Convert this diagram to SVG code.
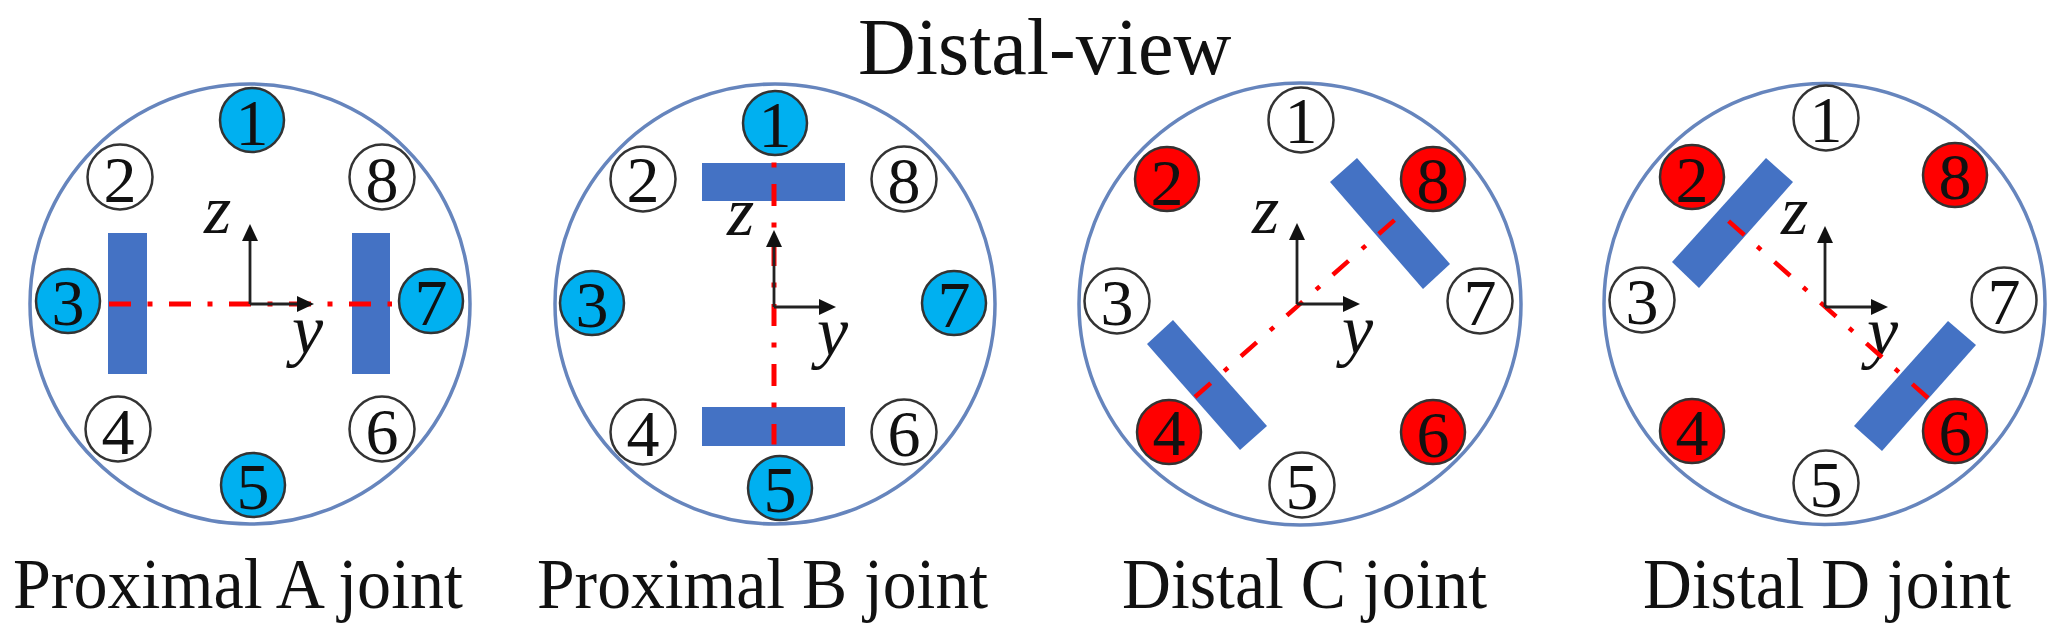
<svg xmlns="http://www.w3.org/2000/svg" width="2068" height="641" viewBox="0 0 2068 641">
<style>
text{font-family:"Liberation Serif","Times New Roman",serif;fill:#111}
.t{font-size:71px}
.ti{font-size:80px}
.n{font-size:66px;text-anchor:middle}
.a{font-size:70px;font-style:italic}
.o{fill:#fff;stroke:#6685bd;stroke-width:3.5}
.w,.b,.r{stroke:#333;stroke-width:2.5}
.w{fill:#fff}.b{fill:#00b0f0}.r{fill:#f00}
.bar{fill:#4472c4}
.cl{stroke:#f00;stroke-width:5;fill:none;stroke-dasharray:22 16.5 5 16.5}
.dg{stroke-width:4.5;stroke-dasharray:21 18 5 17.4}
.ax{stroke:#222;stroke-width:2.8;fill:none;marker-end:url(#ah)}
</style>
<defs>
<marker id="ah" markerUnits="userSpaceOnUse" markerWidth="18" markerHeight="18" refX="0" refY="8" orient="auto"><path d="M0 0L17 8L0 16Z" fill="#111"/></marker>
</defs>
<rect width="2068" height="641" fill="#fff"/>
<text class="ti" x="858" y="74">Distal-view</text>
<g id="joint-a">
<circle class="o" cx="250" cy="304" r="220"/>
<rect class="bar" x="108" y="233" width="39" height="141"/>
<rect class="bar" x="352" y="233" width="38" height="141"/>
<g id="a1"><circle class="b" cx="252" cy="120" r="32"/><text class="n" x="252" y="145">1</text></g>
<g id="a2"><circle class="w" cx="120" cy="177" r="32.5"/><text class="n" x="120" y="202">2</text></g>
<g id="a3"><circle class="b" cx="68" cy="301" r="32"/><text class="n" x="68" y="325">3</text></g>
<g id="a4"><circle class="w" cx="118" cy="429" r="32.5"/><text class="n" x="118" y="454">4</text></g>
<g id="a5"><circle class="b" cx="253" cy="485" r="32"/><text class="n" x="253" y="509">5</text></g>
<g id="a6"><circle class="w" cx="382" cy="429" r="32.5"/><text class="n" x="382" y="454">6</text></g>
<g id="a7"><circle class="b" cx="431" cy="301" r="32"/><text class="n" x="431" y="325">7</text></g>
<g id="a8"><circle class="w" cx="382" cy="177" r="32.5"/><text class="n" x="382" y="202">8</text></g>
<text class="a" x="204" y="233">z</text><text class="a" x="292" y="353">y</text>
<text class="t" x="13" y="608" textLength="450" lengthAdjust="spacingAndGlyphs">Proximal A joint</text>
</g>
<g id="joint-b">
<circle class="o" cx="775" cy="304" r="220"/>
<rect class="bar" x="702" y="163" width="143" height="38"/>
<rect class="bar" x="702" y="407" width="143" height="39"/>
<g id="b1"><circle class="b" cx="775" cy="123" r="32"/><text class="n" x="775" y="147">1</text></g>
<g id="b2"><circle class="w" cx="643" cy="179" r="32.5"/><text class="n" x="643" y="202">2</text></g>
<g id="b3"><circle class="b" cx="592" cy="303" r="32"/><text class="n" x="592" y="327">3</text></g>
<g id="b4"><circle class="w" cx="643" cy="432" r="32.5"/><text class="n" x="643" y="456">4</text></g>
<g id="b5"><circle class="b" cx="780" cy="488" r="32"/><text class="n" x="780" y="512">5</text></g>
<g id="b6"><circle class="w" cx="904" cy="432" r="32.5"/><text class="n" x="904" y="456">6</text></g>
<g id="b7"><circle class="b" cx="954" cy="303" r="32"/><text class="n" x="954" y="327">7</text></g>
<g id="b8"><circle class="w" cx="904" cy="179" r="32.5"/><text class="n" x="904" y="203">8</text></g>
<text class="a" x="727" y="235">z</text><text class="a" x="817" y="355">y</text>
<text class="t" x="537" y="608" textLength="451" lengthAdjust="spacingAndGlyphs">Proximal B joint</text>
</g>
<g id="joint-c">
<circle class="o" cx="1300" cy="304" r="221"/>
<polygon class="bar" points="1357,158 1450,264 1423,289 1330,182"/>
<polygon class="bar" points="1173,320 1267,426 1240,450 1147,344"/>
<g id="c1"><circle class="w" cx="1301" cy="120" r="32.5"/><text class="n" x="1301" y="143">1</text></g>
<g id="c2"><circle class="r" cx="1167" cy="179" r="32"/><text class="n" x="1167" y="205">2</text></g>
<g id="c3"><circle class="w" cx="1117" cy="301" r="32.5"/><text class="n" x="1117" y="325">3</text></g>
<g id="c4"><circle class="r" cx="1169" cy="432" r="32"/><text class="n" x="1169" y="455">4</text></g>
<g id="c5"><circle class="w" cx="1302" cy="485" r="32.5"/><text class="n" x="1302" y="509">5</text></g>
<g id="c6"><circle class="r" cx="1433" cy="432" r="32"/><text class="n" x="1433" y="457">6</text></g>
<g id="c7"><circle class="w" cx="1480" cy="301" r="32.5"/><text class="n" x="1480" y="325">7</text></g>
<g id="c8"><circle class="r" cx="1433" cy="179" r="32"/><text class="n" x="1433" y="203">8</text></g>
<text class="a" x="1252" y="233">z</text><text class="a" x="1342" y="353">y</text>
<text class="t" x="1122" y="608" textLength="365" lengthAdjust="spacingAndGlyphs">Distal C joint</text>
</g>
<g id="joint-d">
<circle class="o" cx="1824.5" cy="304" r="220.5"/>
<polygon class="bar" points="1766,158 1793,182 1699,288 1672,262"/>
<polygon class="bar" points="1948,321 1976,345 1882,451 1854,426"/>
<g id="d1"><circle class="w" cx="1826" cy="118" r="32.5"/><text class="n" x="1826" y="142">1</text></g>
<g id="d2"><circle class="r" cx="1692" cy="177" r="32"/><text class="n" x="1692" y="202">2</text></g>
<g id="d3"><circle class="w" cx="1642" cy="300" r="32.5"/><text class="n" x="1642" y="324">3</text></g>
<g id="d4"><circle class="r" cx="1692" cy="431" r="32"/><text class="n" x="1692" y="455">4</text></g>
<g id="d5"><circle class="w" cx="1826" cy="483" r="32.5"/><text class="n" x="1826" y="507">5</text></g>
<g id="d6"><circle class="r" cx="1955" cy="431" r="32"/><text class="n" x="1955" y="455">6</text></g>
<g id="d7"><circle class="w" cx="2004" cy="300" r="32.5"/><text class="n" x="2004" y="324">7</text></g>
<g id="d8"><circle class="r" cx="1955" cy="175" r="32"/><text class="n" x="1955" y="199">8</text></g>
<text class="a" x="1781" y="234">z</text><text class="a" x="1867" y="355">y</text>
<text class="t" x="1643" y="608" textLength="368" lengthAdjust="spacingAndGlyphs">Distal D joint</text>
</g>
<g id="connectors">
<line class="cl" x1="109" y1="304" x2="392" y2="304"/>
<line class="ax" x1="250" y1="304" x2="250" y2="241"/>
<line class="ax" x1="250" y1="304" x2="297" y2="304"/>
<line class="cl" x1="774" y1="162.5" x2="774" y2="444.5" stroke-dashoffset="38.5"/>
<line class="ax" x1="774" y1="307" x2="774" y2="247"/>
<line class="ax" x1="774" y1="307" x2="819" y2="307"/>
<line class="cl dg" x1="1195" y1="397" x2="1398" y2="217"/>
<line class="ax" x1="1297" y1="304" x2="1297" y2="240"/>
<line class="ax" x1="1297" y1="304" x2="1343" y2="304"/>
<line class="cl dg" x1="1928" y1="398" x2="1724" y2="217"/>
<line class="ax" x1="1825" y1="307" x2="1825" y2="243"/>
<line class="ax" x1="1825" y1="307" x2="1871" y2="307"/>
</g>
</svg>
